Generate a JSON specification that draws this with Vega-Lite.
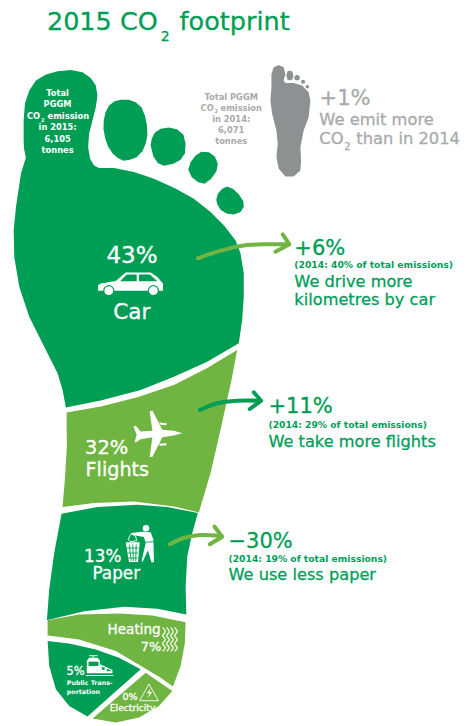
{
"$schema":"https://vega.github.io/schema/vega-lite/v6.json",
"description":"PGGM 2015 CO2 footprint: emission shares per source drawn as segments of a foot",
"width":470,"height":726,"padding":0,
"autosize":{"type":"fit","contains":"padding"},
"background":"#ffffff",
"config":{"view":{"stroke":null},"text":{"font":"DejaVu Sans"}},
"datasets":{
"shapes":[
{"type":"Feature","properties":{"part":"page"},"geometry":{"type":"Polygon","coordinates":[[[0,0],[470,0],[470,726],[0,726],[0,0]]]}},
{"type":"Feature","properties":{"part":"Car"},"geometry":{"type":"Polygon","coordinates":[[[25,157],[23,148],[22.7,140],[22.7,120],[24,103],[28.3,90],[35,80],[45,74],[56.7,70.7],[70,69.3],[81.7,71.7],[90,77.3],[95,85],[96.7,95],[95,106.7],[91.7,120],[88.3,133],[87.3,146.7],[89.3,158.3],[93.3,165],[98.3,167.7],[113.3,167.7],[133.3,171.7],[153.3,178.3],[173.3,187.3],[193.3,198.3],[210,211.7],[223.3,225],[235,240],[240,253],[243.3,273.3],[243.3,296.7],[241.7,320],[238.3,343.3],[206.7,361.7],[173.3,376.7],[140,390],[100,400.7],[65,407.7],[61.7,390],[56.7,373.3],[43.3,346.7],[28.3,316.7],[18.3,286.7],[13.3,256.7],[12.7,230],[15,206.7],[20,173],[25,157]]]}},
{"type":"Feature","properties":{"part":"Toe"},"geometry":{"type":"Polygon","coordinates":[[[102.7,128.3],[103,120],[104.7,111.7],[108.3,105],[113.3,101],[120,99.3],[128.3,99.3],[135,101.7],[140.7,106.7],[144.3,115],[146.3,125],[146.7,135],[145,143.3],[141.7,150.7],[136,156.7],[129.3,159.3],[122.7,160.3],[116.7,157.3],[111.7,152.7],[107.3,146],[104.3,137.3],[102.7,128.3]]]}},
{"type":"Feature","properties":{"part":"Toe"},"geometry":{"type":"Polygon","coordinates":[[[150,145],[151,138.3],[154,132.3],[160,128.3],[168.3,127],[176.7,129],[182.7,134],[185,143.3],[184.3,152.7],[180,159.3],[172.7,163.3],[163.3,165.3],[157.3,162.7],[152.7,156],[150,145]]]}},
{"type":"Feature","properties":{"part":"Toe"},"geometry":{"type":"Polygon","coordinates":[[[187.7,169.3],[190,161.7],[195,155],[201,151.3],[208.3,151.7],[214.3,156],[217.3,163.3],[216,170.7],[210.7,178.3],[204,183.3],[197.3,181.7],[191,176.7],[187.7,169.3]]]}},
{"type":"Feature","properties":{"part":"Toe"},"geometry":{"type":"Polygon","coordinates":[[[215.7,199.3],[217.3,193.3],[221.7,188.3],[226.7,186],[232.7,188.7],[238.3,194],[242.7,200.7],[243.3,206.7],[240,211.7],[233.3,214.3],[226,213.3],[220,209.3],[216.7,204],[215.7,199.3]]]}},
{"type":"Feature","properties":{"part":"Flights"},"geometry":{"type":"Polygon","coordinates":[[[65.7,412.7],[100,406.7],[136.7,397.3],[173.3,385],[206.7,368],[236.7,350],[231,380],[220,430],[210,473.3],[198.3,512.7],[173.3,506.7],[133.3,501.7],[93.3,503.3],[61.7,507.3],[64,480],[66,446.7],[65.7,412.7]]]}},
{"type":"Feature","properties":{"part":"Paper"},"geometry":{"type":"Polygon","coordinates":[[[60.7,514],[96.7,507.3],[136.7,505],[166.7,507.3],[197.3,513.3],[191.7,533.3],[186.7,556.7],[185,586.7],[185.7,615],[156.7,609.3],[123.3,607.3],[83.3,611.7],[46,620.7],[48.3,590],[53.3,553.3],[60.7,514]]]}},
{"type":"Feature","properties":{"part":"Heating"},"geometry":{"type":"Polygon","coordinates":[[[46.7,620.7],[78.3,615],[118.3,614],[151.7,616],[185,622.7],[184.3,643.3],[180,666.7],[172.3,687.3],[160,678.3],[145,669.3],[115,651.7],[78.3,640],[46.7,636],[46.7,620.7]]]}},
{"type":"Feature","properties":{"part":"Public Transportation"},"geometry":{"type":"Polygon","coordinates":[[[46.7,641.7],[68.3,644],[95,650],[118.3,658.3],[140,670],[86.7,717.3],[68.3,706.7],[55,690],[48.3,666.7],[46.7,641.7]]]}},
{"type":"Feature","properties":{"part":"Electricity"},"geometry":{"type":"Polygon","coordinates":[[[145,673.3],[171.7,691.7],[158.3,706.7],[138.3,718.3],[115,723.3],[91.7,719.3],[145,673.3]]]}},
{"type":"Feature","properties":{"part":"Foot 2014"},"geometry":{"type":"Polygon","coordinates":[[[271,73.3],[273.3,66.7],[278.3,64.3],[283.3,66.7],[285,73.3],[283.3,80],[285,82.3],[293.3,82.3],[301.7,85],[308.3,91.7],[310,100],[308.3,116.7],[303.3,130],[300,146.7],[300.7,160],[300,170],[293.3,176],[285,176],[278.3,168.3],[276,156.7],[277.3,143.3],[276,130],[271.7,113.3],[270,100],[271,86.7],[271,73.3]]]}},
{"type":"Feature","properties":{"part":"Foot 2014"},"geometry":{"type":"Polygon","coordinates":[[[286,75],[287,71],[289.3,70],[292,71],[293,75],[292,79],[289.3,80],[287,79],[286,75]]]}},
{"type":"Feature","properties":{"part":"Icon"},"geometry":{"type":"Polygon","coordinates":[[[97.3,285],[100,283.3],[115,280.7],[125,272.3],[150,272.3],[156.7,276.7],[162.3,283.3],[162.3,290.7],[97.3,290.7],[97.3,285]]]}},
{"type":"Feature","properties":{"part":"Icon cutout"},"geometry":{"type":"Polygon","coordinates":[[[119.3,281],[126,274.3],[136,274.3],[136,281],[119.3,281]]]}},
{"type":"Feature","properties":{"part":"Icon cutout"},"geometry":{"type":"Polygon","coordinates":[[[138.3,274.3],[149.3,274.3],[156.7,281],[138.3,281],[138.3,274.3]]]}},
{"type":"Feature","properties":{"part":"Icon"},"geometry":{"type":"Polygon","coordinates":[[[181.7,433.3],[173.3,435.7],[161.7,437.3],[151.7,457.3],[149,457.3],[151.7,437.3],[140,439.3],[135,442.7],[134,441.7],[136,435],[132.7,426.7],[135,426],[140,431.7],[151.7,431],[149,411.7],[151.7,410.7],[161.7,430],[173.3,431],[181.7,433.3]]]}},
{"type":"Feature","properties":{"part":"Icon"},"geometry":{"type":"Polygon","coordinates":[[[158.3,422.7],[166,423.3],[165.7,425.3],[160,425],[158.3,422.7]]]}},
{"type":"Feature","properties":{"part":"Icon"},"geometry":{"type":"Polygon","coordinates":[[[158.3,444],[166,443.3],[165.7,445.3],[159.3,446],[158.3,444]]]}},
{"type":"Feature","properties":{"part":"Icon"},"geometry":{"type":"Polygon","coordinates":[[[130.7,533.3],[141.7,532],[150,532.7],[152.7,540],[153.3,562.7],[150.7,562.7],[147.3,550.7],[141.7,562.7],[141,561],[145,543.3],[143.3,537.3],[131.7,535.3],[130.7,533.3]]]}},
{"type":"Feature","properties":{"part":"Icon"},"geometry":{"type":"Polygon","coordinates":[[[125,542.7],[139,542.7],[137.3,562.3],[128.3,562.3],[125,542.7]]]}},
{"type":"Feature","properties":{"part":"Icon"},"geometry":{"type":"Polygon","coordinates":[[[86,661.7],[88.3,658.3],[96.7,658.3],[99.3,661.7],[99.3,674],[86,674],[86,661.7]]]}},
{"type":"Feature","properties":{"part":"Icon"},"geometry":{"type":"Polygon","coordinates":[[[99.3,665],[111.7,670.7],[111.7,674],[99.3,674],[99.3,665]]]}},
{"type":"Feature","properties":{"part":"Icon cutout"},"geometry":{"type":"Polygon","coordinates":[[[87.7,662.3],[97.7,662.3],[97.7,666.7],[87.7,666.7],[87.7,662.3]]]}},
{"type":"Feature","properties":{"part":"Icon cutout"},"geometry":{"type":"Polygon","coordinates":[[[101,667.5],[104,668.5],[104,670.5],[101,670.5],[101,667.5]]]}},
{"type":"Feature","properties":{"part":"Icon cutout"},"geometry":{"type":"Polygon","coordinates":[[[106,669.5],[110,671],[110,672],[106,672],[106,669.5]]]}},
{"type":"Feature","properties":{"part":"Icon"},"geometry":{"type":"Polygon","coordinates":[[[150,689.3],[146,694],[149,694],[146.7,699.3],[151.7,692.7],[148.7,692.7],[150,689.3]]]}}
],
"dots":[
{"part":"wheel ring","x":108,"y":290.7},{"part":"wheel ring","x":152.7,"y":290.7},
{"part":"wheel","x":108,"y":290.7},{"part":"wheel","x":152.7,"y":290.7},
{"part":"head","x":145.3,"y":528.3},
{"part":"toe 2014 a","x":296.7,"y":77.7},{"part":"toe 2014 b","x":302.7,"y":81.7},{"part":"toe 2014 c","x":307,"y":86.7}
],
"arrowShafts":[
{"part":"Car arrow","seq":1,"x":197.3,"y":258.3},{"part":"Car arrow","seq":2,"x":216.7,"y":251.7},{"part":"Car arrow","seq":3,"x":240,"y":246},{"part":"Car arrow","seq":4,"x":263.3,"y":244.3},{"part":"Car arrow","seq":5,"x":286.7,"y":244.3},
{"part":"Flights arrow","seq":1,"x":199.3,"y":410},{"part":"Flights arrow","seq":2,"x":216.7,"y":403.3},{"part":"Flights arrow","seq":3,"x":236.7,"y":400.7},{"part":"Flights arrow","seq":4,"x":258.3,"y":400.7},
{"part":"Paper arrow","seq":1,"x":169.3,"y":544.3},{"part":"Paper arrow","seq":2,"x":183,"y":538},{"part":"Paper arrow","seq":3,"x":200,"y":535},{"part":"Paper arrow","seq":4,"x":220,"y":536}
],
"arrowHeads":[
{"part":"Car arrow","seq":1,"x":282.3,"y":234.3},{"part":"Car arrow","seq":2,"x":289,"y":244.3},{"part":"Car arrow","seq":3,"x":275,"y":251.7},
{"part":"Flights arrow","seq":1,"x":253.3,"y":392.3},{"part":"Flights arrow","seq":2,"x":260.7,"y":400.7},{"part":"Flights arrow","seq":3,"x":249.3,"y":409},
{"part":"Paper arrow","seq":1,"x":214,"y":526.7},{"part":"Paper arrow","seq":2,"x":221.7,"y":536.7},{"part":"Paper arrow","seq":3,"x":209.3,"y":544.3}
],
"heatWaves":[
{"wave":"a","seq":1,"x":162,"y":627.3},{"wave":"a","seq":2,"x":164.6,"y":631.7},{"wave":"a","seq":3,"x":162,"y":635.7},{"wave":"a","seq":4,"x":164.6,"y":639.7},{"wave":"a","seq":5,"x":162,"y":643.7},{"wave":"a","seq":6,"x":164.6,"y":647.7},{"wave":"a","seq":7,"x":162,"y":651.3},
{"wave":"b","seq":1,"x":166,"y":627.3},{"wave":"b","seq":2,"x":168.6,"y":631.7},{"wave":"b","seq":3,"x":166,"y":635.7},{"wave":"b","seq":4,"x":168.6,"y":639.7},{"wave":"b","seq":5,"x":166,"y":643.7},{"wave":"b","seq":6,"x":168.6,"y":647.7},{"wave":"b","seq":7,"x":166,"y":651.3},
{"wave":"c","seq":1,"x":170,"y":627.3},{"wave":"c","seq":2,"x":172.6,"y":631.7},{"wave":"c","seq":3,"x":170,"y":635.7},{"wave":"c","seq":4,"x":172.6,"y":639.7},{"wave":"c","seq":5,"x":170,"y":643.7},{"wave":"c","seq":6,"x":172.6,"y":647.7},{"wave":"c","seq":7,"x":170,"y":651.3},
{"wave":"d","seq":1,"x":174,"y":627.3},{"wave":"d","seq":2,"x":176.6,"y":631.7},{"wave":"d","seq":3,"x":174,"y":635.7},{"wave":"d","seq":4,"x":176.6,"y":639.7},{"wave":"d","seq":5,"x":174,"y":643.7},{"wave":"d","seq":6,"x":176.6,"y":647.7},{"wave":"d","seq":7,"x":174,"y":651.3}
],
"iconLines":[
{"part":"Icon cutout","path":"belt","seq":1,"x":144,"y":542.3},{"part":"Icon cutout","path":"belt","seq":2,"x":153.3,"y":541.7},
{"part":"Icon cutout","path":"can v1","seq":1,"x":128.5,"y":544.5},{"part":"Icon cutout","path":"can v1","seq":2,"x":130.5,"y":561},
{"part":"Icon cutout","path":"can v2","seq":1,"x":132,"y":544.5},{"part":"Icon cutout","path":"can v2","seq":2,"x":132.7,"y":561},
{"part":"Icon cutout","path":"can v3","seq":1,"x":135.5,"y":544.5},{"part":"Icon cutout","path":"can v3","seq":2,"x":135,"y":561},
{"part":"Icon cutout","path":"can h1","seq":1,"x":126,"y":548},{"part":"Icon cutout","path":"can h1","seq":2,"x":138,"y":548},
{"part":"Icon cutout","path":"can h2","seq":1,"x":127,"y":553},{"part":"Icon cutout","path":"can h2","seq":2,"x":137.5,"y":553},
{"part":"Icon cutout","path":"can h3","seq":1,"x":127.5,"y":558},{"part":"Icon cutout","path":"can h3","seq":2,"x":137,"y":558},
{"part":"Icon","path":"litter","seq":1,"x":127.3,"y":539.3},{"part":"Icon","path":"litter","seq":2,"x":130.7,"y":533.3},{"part":"Icon","path":"litter","seq":3,"x":135,"y":536.7},{"part":"Icon","path":"litter","seq":4,"x":136,"y":540.7},{"part":"Icon","path":"litter","seq":5,"x":130,"y":541.7},{"part":"Icon","path":"litter","seq":6,"x":127.3,"y":539.3},
{"part":"Icon","path":"rail","seq":1,"x":85,"y":675.5},{"part":"Icon","path":"rail","seq":2,"x":112.7,"y":675.5},
{"part":"Icon","path":"pantograph bar","seq":1,"x":88.3,"y":655.7},{"part":"Icon","path":"pantograph bar","seq":2,"x":96.7,"y":655.7},
{"part":"Icon","path":"pantograph arm","seq":1,"x":92.3,"y":655.7},{"part":"Icon","path":"pantograph arm","seq":2,"x":92.3,"y":658.3},
{"part":"Icon","path":"warning sign","seq":1,"x":148.3,"y":684},{"part":"Icon","path":"warning sign","seq":2,"x":139,"y":700.7},{"part":"Icon","path":"warning sign","seq":3,"x":157.7,"y":700.7},{"part":"Icon","path":"warning sign","seq":4,"x":148.3,"y":684}
],
"labelsLeft":[
{"part":"title","label":"2015 CO","x":46,"y":30},{"part":"title","label":"footprint","x":179,"y":30},{"part":"title sub","label":"2","x":160,"y":41},
{"part":"change","label":"+6%","x":294,"y":255},{"part":"finding","label":"We drive more","x":294,"y":286.7},{"part":"finding","label":"kilometres by car","x":294,"y":305},
{"part":"change","label":"+11%","x":268,"y":413.3},{"part":"finding","label":"We take more flights","x":268,"y":446.7},
{"part":"change","label":"−30%","x":228,"y":548.3},{"part":"finding","label":"We use less paper","x":228,"y":580},
{"part":"grey change","label":"+1%","x":319.3,"y":105},{"part":"grey finding","label":"We emit more","x":319,"y":125},{"part":"grey finding","label":"CO","x":319,"y":144},{"part":"grey sub","label":"2","x":344,"y":150},{"part":"grey finding","label":"than in 2014","x":356,"y":144},
{"part":"Flights share","label":"32%","x":84.3,"y":454},{"part":"Flights name","label":"Flights","x":84.7,"y":475.7},
{"part":"Paper share","label":"13%","x":83.3,"y":561.7},{"part":"Paper name","label":"Paper","x":91.7,"y":579.3},
{"part":"Heating name","label":"Heating","x":106.7,"y":634.3},{"part":"Heating share","label":"7%","x":140,"y":650.7},
{"part":"Transport share","label":"5%","x":65.7,"y":675.3},
{"part":"Electricity share","label":"0%","x":121.7,"y":700},{"part":"Electricity name","label":"Electricity","x":109,"y":710.5}
],
"labelsLeftBold":[
{"part":"note","label":"(2014: 40% of total emissions)","x":294,"y":267.7},
{"part":"note","label":"(2014: 29% of total emissions)","x":268,"y":427.7},
{"part":"note","label":"(2014: 19% of total emissions)","x":228,"y":561.7},
{"part":"Transport name","label":"Public Trans-","x":66,"y":685},{"part":"Transport name","label":"portation","x":66,"y":694},
{"part":"total","label":"CO","x":26,"y":119.3},{"part":"total sub","label":"2","x":40,"y":121.5},{"part":"total","label":"emission","x":46.7,"y":119.3},
{"part":"total 2014","label":"CO","x":200,"y":110.7},{"part":"total 2014 sub","label":"2","x":214,"y":113},{"part":"total 2014","label":"emission","x":220,"y":110.7}
],
"labelsCentre":[
{"part":"Car share","label":"43%","x":131.3,"y":263.3},{"part":"Car name","label":"Car","x":131,"y":319.3}
],
"labelsCentreBold":[
{"part":"total","label":"Total","x":56.7,"y":96},{"part":"total","label":"PGGM","x":56.7,"y":107.3},{"part":"total","label":"in 2015:","x":56.7,"y":130},{"part":"total","label":"6,105","x":56.7,"y":142},{"part":"total","label":"tonnes","x":56.7,"y":152.7},
{"part":"total 2014","label":"Total PGGM","x":230.7,"y":100},{"part":"total 2014","label":"in 2014:","x":230.7,"y":121.7},{"part":"total 2014","label":"6,071","x":230.7,"y":133.3},{"part":"total 2014","label":"tonnes","x":230.7,"y":144.3}
]
},
"layer":[
{"data":{"name":"shapes"},"mark":{"type":"geoshape","strokeWidth":0},"projection":{"type":"identity"},
 "encoding":{"color":{"field":"properties.part","type":"nominal","legend":null,"scale":{"domain":["page","Car","Flights","Paper","Heating","Public Transportation","Electricity","Toe","Foot 2014","Icon","Icon cutout"],"range":["#ffffff","#009e55","#70b541","#009e55","#70b541","#009e55","#70b541","#009e55","#8e9192","#ffffff","#009e55"]}}}},
{"data":{"name":"dots"},"mark":{"type":"point","filled":true,"opacity":1},
 "encoding":{
  "x":{"field":"x","type":"quantitative","axis":null,"scale":{"domain":[0,470],"nice":false,"zero":false}},
  "y":{"field":"y","type":"quantitative","axis":null,"scale":{"domain":[0,726],"nice":false,"zero":false,"reverse":true}},
  "fill":{"field":"part","type":"nominal","legend":null,"scale":{"domain":["wheel ring","wheel","head","toe 2014 a","toe 2014 b","toe 2014 c"],"range":["#009e55","#ffffff","#ffffff","#8e9192","#8e9192","#8e9192"]}},
  "size":{"field":"part","type":"nominal","legend":null,"scale":{"type":"ordinal","domain":["wheel ring","wheel","head","toe 2014 a","toe 2014 b","toe 2014 c"],"range":[125,78,43,28,17,13]}}}},
{"data":{"name":"arrowShafts"},"mark":{"type":"line","interpolate":"cardinal","strokeWidth":4,"strokeCap":"round"},
 "encoding":{"x":{"field":"x","type":"quantitative"},"y":{"field":"y","type":"quantitative"},"order":{"field":"seq"},
  "stroke":{"field":"part","type":"nominal","legend":null,"scale":{"domain":["Car arrow","Flights arrow","Paper arrow"],"range":["#70b541","#009e55","#70b541"]}}}},
{"data":{"name":"arrowHeads"},"mark":{"type":"line","strokeWidth":4,"strokeCap":"round","strokeJoin":"round"},
 "encoding":{"x":{"field":"x","type":"quantitative"},"y":{"field":"y","type":"quantitative"},"order":{"field":"seq"},
  "stroke":{"field":"part","type":"nominal","legend":null,"scale":{"domain":["Car arrow","Flights arrow","Paper arrow"],"range":["#70b541","#009e55","#70b541"]}}}},
{"data":{"name":"heatWaves"},"mark":{"type":"line","interpolate":"cardinal","strokeWidth":1.2,"color":"#ffffff"},
 "encoding":{"x":{"field":"x","type":"quantitative"},"y":{"field":"y","type":"quantitative"},"order":{"field":"seq"},"detail":{"field":"wave"}}},
{"data":{"name":"iconLines"},"mark":{"type":"line","strokeWidth":0.9},
 "encoding":{"x":{"field":"x","type":"quantitative"},"y":{"field":"y","type":"quantitative"},"order":{"field":"seq"},"detail":{"field":"path"},
  "stroke":{"field":"part","type":"nominal","legend":null,"scale":{"domain":["Icon","Icon cutout"],"range":["#ffffff","#009e55"]}}}},
{"data":{"name":"labelsLeft"},"mark":{"type":"text","align":"left","baseline":"alphabetic","font":"DejaVu Sans","strokeWidth":0.3},
 "encoding":{"x":{"field":"x","type":"quantitative"},"y":{"field":"y","type":"quantitative"},"text":{"field":"label"},
  "size":{"field":"part","type":"nominal","legend":null,"scale":{"type":"ordinal","domain":["title","title sub","change","finding","grey change","grey finding","grey sub","Flights share","Flights name","Paper share","Paper name","Heating name","Heating share","Transport share","Electricity share","Electricity name"],"range":[25.5,14,21,16.2,21,16.3,10,19.4,19.2,16.8,16.8,13.6,13,11.4,9.5,9.2]}},
  "fill":{"field":"part","type":"nominal","legend":null,"scale":{"domain":["title","title sub","change","finding","grey change","grey finding","grey sub","Flights share","Flights name","Paper share","Paper name","Heating name","Heating share","Transport share","Electricity share","Electricity name"],"range":["#009e55","#009e55","#009e55","#00a05a","#a8aaab","#a8aaab","#a8aaab","#ffffff","#ffffff","#ffffff","#ffffff","#ffffff","#ffffff","#ffffff","#ffffff","#ffffff"]}},
  "stroke":{"field":"part","type":"nominal","legend":null,"scale":{"domain":["title","title sub","change","finding","grey change","grey finding","grey sub","Flights share","Flights name","Paper share","Paper name","Heating name","Heating share","Transport share","Electricity share","Electricity name"],"range":["#009e55","#009e55","#009e55","#00a05a","#a8aaab","#a8aaab","#a8aaab","#ffffff","#ffffff","#ffffff","#ffffff","#ffffff","#ffffff","#ffffff","#ffffff","#ffffff"]}}}},
{"data":{"name":"labelsLeftBold"},"mark":{"type":"text","align":"left","baseline":"alphabetic","font":"DejaVu Sans","fontWeight":"bold"},
 "encoding":{"x":{"field":"x","type":"quantitative"},"y":{"field":"y","type":"quantitative"},"text":{"field":"label"},
  "size":{"field":"part","type":"nominal","legend":null,"scale":{"type":"ordinal","domain":["note","Transport name","total","total sub","total 2014","total 2014 sub"],"range":[9.2,6.3,8.3,5,8.3,5]}},
  "fill":{"field":"part","type":"nominal","legend":null,"scale":{"domain":["note","Transport name","total","total sub","total 2014","total 2014 sub"],"range":["#00a05a","#ffffff","#ffffff","#ffffff","#a8aaab","#a8aaab"]}}}},
{"data":{"name":"labelsCentre"},"mark":{"type":"text","align":"center","baseline":"alphabetic","font":"DejaVu Sans","fill":"#ffffff","stroke":"#ffffff","strokeWidth":0.3},
 "encoding":{"x":{"field":"x","type":"quantitative"},"y":{"field":"y","type":"quantitative"},"text":{"field":"label"},
  "size":{"field":"part","type":"nominal","legend":null,"scale":{"type":"ordinal","domain":["Car share","Car name"],"range":[23,21.5]}}}},
{"data":{"name":"labelsCentreBold"},"mark":{"type":"text","align":"center","baseline":"alphabetic","font":"DejaVu Sans","fontWeight":"bold","fontSize":8.3},
 "encoding":{"x":{"field":"x","type":"quantitative"},"y":{"field":"y","type":"quantitative"},"text":{"field":"label"},
  "fill":{"field":"part","type":"nominal","legend":null,"scale":{"domain":["total","total 2014"],"range":["#ffffff","#a8aaab"]}}}}
],
"resolve":{"scale":{"fill":"independent","stroke":"independent","color":"independent","size":"independent"}}
}
